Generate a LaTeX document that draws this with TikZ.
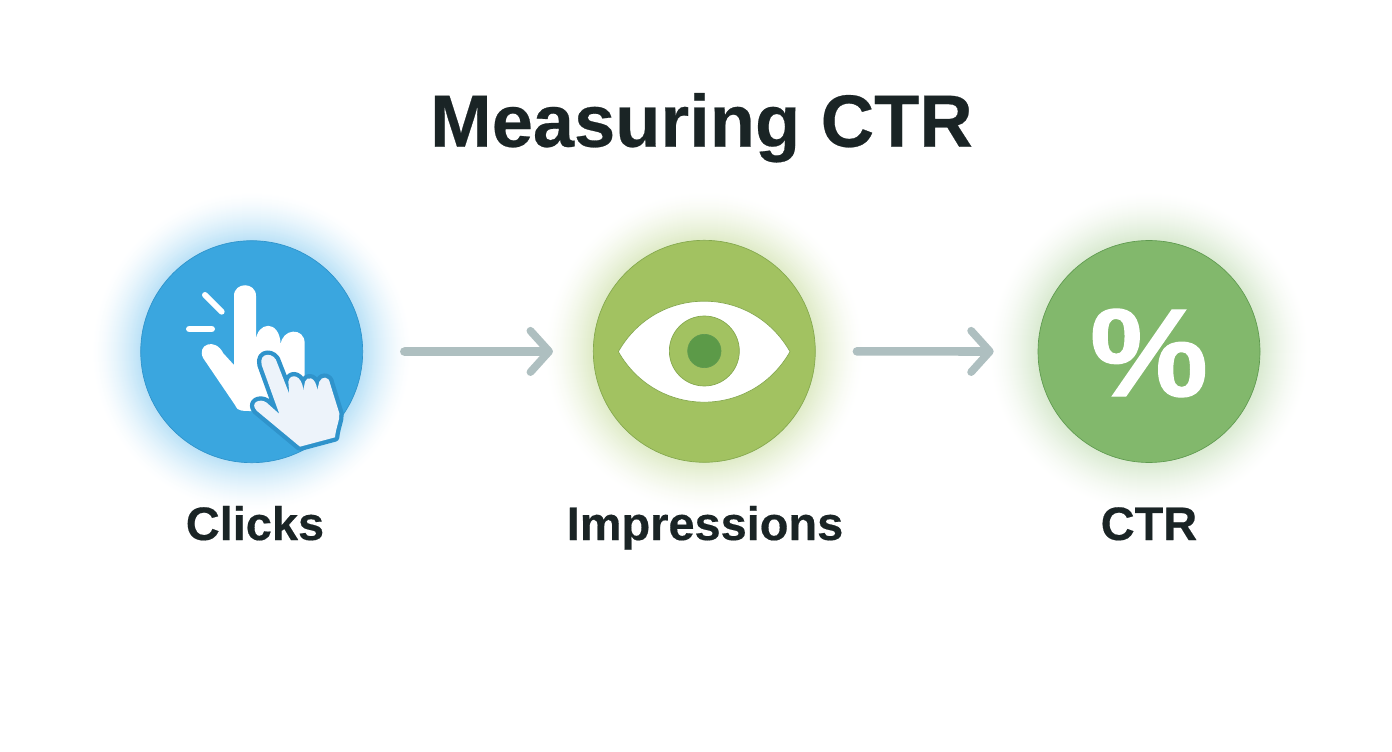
\documentclass[tikz,border=0pt]{standalone}
\usepackage{fontspec}
\setmainfont{Liberation Sans}
\newfontfamily\heavy{Liberation Sans}[BoldFeatures={FakeBold=0.35}]
\newfontfamily\pctfont{Liberation Sans}[BoldFeatures={FakeBold=1,FakeStretch=1.06}]
\usetikzlibrary{arrows.meta}
\definecolor{inkc}{HTML}{1A2425}
\definecolor{bluec}{HTML}{3AA6DF}
\definecolor{blueline}{HTML}{2F93CB}
\definecolor{limec}{HTML}{A2C261}
\definecolor{limeline}{HTML}{84A84E}
\definecolor{greenc}{HTML}{82B86C}
\definecolor{greenline}{HTML}{5F9A50}
\definecolor{pupilc}{HTML}{5C9A48}
\definecolor{glowblue}{HTML}{B4DFF6}
\definecolor{glowlime}{HTML}{DCE9C2}
\definecolor{glowgreen}{HTML}{D6E8CC}
\definecolor{arrowc}{HTML}{AEBFC0}
\definecolor{frontc}{HTML}{EDF3FA}
\newcommand{\glowat}[3]{%
  \foreach \r in {160,159,...,108}{%
    \pgfmathsetmacro{\p}{100*((160-\r)/52)^1.5}%
    \fill[#3!\p!white] (#1,#2) circle[radius=\r];%
  }}
\tikzset{
  x=0.75pt,y=-0.75pt,
  disc/.style={circle,minimum size=166.5pt,inner sep=0pt,line width=0.5pt},
  flow/.style={draw=arrowc,line width=6.5pt,line cap=round,
    -{Straight Barb[round,length=14pt,width=31pt,line width=5.8pt]}},
  titletext/.style={text=inkc,font=\fontsize{55.5pt}{60pt}\selectfont\heavy\bfseries,anchor=base,inner sep=0pt},
  labeltext/.style={text=inkc,font=\fontsize{35.2pt}{40pt}\selectfont\heavy\bfseries,anchor=base,inner sep=0pt},
  tick/.style={draw=white,line cap=round},
}
\begin{document}
\begin{tikzpicture}
\useasboundingbox[fill=white] (0,0) rectangle (1392,752);
\glowat{251.7}{351.7}{glowblue}
\glowat{704.3}{351.3}{glowlime}
\glowat{1149}{351.5}{glowgreen}
\node[titletext] (title) at (701.5,146.7) {Measuring CTR};
\node[disc,fill=bluec,draw=blueline] (clicks) at (251.7,351.7) {};
\node[disc,fill=limec,draw=limeline] (impressions) at (704.3,351.3) {};
\node[disc,fill=greenc,draw=greenline] (ctr) at (1149,351.5) {};
% hands
\begin{scope}[shift={(180,280)},x=0.25pt,y=-0.25pt]
  \draw[tick,line width=4.5pt] (75,45) -- (125,95);
  \draw[tick,line width=5pt] (28,147) -- (95,147);
  \fill[white] (162,255) -- (162,48) .. controls (162,5) and (228,5) .. (228,48) -- (228,185)
    .. controls (228,125) and (300,115) .. (302,195)
    .. controls (305,145) and (374,140) .. (374,190) -- (374,290) -- (250,395) -- (185,392)
    .. controls (175,392) and (170,385) .. (165,375) -- (70,235)
    .. controls (48,195) and (105,170) .. (130,220) -- cycle;
  \path[draw=blueline,line width=6.5pt,line join=round]
    (298,402) -- (245,255) .. controls (235,215) and (285,215) .. (292,250) -- (328,342)
    -- (325,305) .. controls (330,278) and (367,283) .. (370,332)
    -- (375,305) .. controls (380,288) and (407,288) .. (412,330)
    -- (418,305) .. controls (425,288) and (447,288) .. (450,310)
    -- (478,400) .. controls (480,420) and (468,440) .. (465,472)
    -- (360,500) -- (230,392) .. controls (208,368) and (240,353) .. (260,368) -- cycle;
  \fill[frontc]
    (298,402) -- (245,255) .. controls (235,215) and (285,215) .. (292,250) -- (328,342)
    -- (325,305) .. controls (330,278) and (367,283) .. (370,332)
    -- (375,305) .. controls (380,288) and (407,288) .. (412,330)
    -- (418,305) .. controls (425,288) and (447,288) .. (450,310)
    -- (478,400) .. controls (480,420) and (468,440) .. (465,472)
    -- (360,500) -- (230,392) .. controls (208,368) and (240,353) .. (260,368) -- cycle;
\end{scope}
% eye
\begin{scope}[shift={(560,220)},x=0.25pt,y=-0.25pt]
  \draw[fill=white,draw=limeline,line width=0.5pt] (175,395) .. controls (290,193) and (575,193) .. (690,395)
    .. controls (575,597) and (290,597) .. (175,395) -- cycle;
  \draw[fill=limec,draw=limeline,line width=0.5pt] (433,393) circle[radius=105];
  \draw[fill=pupilc,draw=greenline,line width=0.5pt] (433,393) circle[radius=50];
\end{scope}
\node[text=white,font=\fontsize{94pt}{110pt}\selectfont\pctfont\bfseries,inner sep=0pt] (pct) at (1149,353) {\%};
% connectors
\draw[flow,shorten <=31pt,shorten >=30pt] (clicks) -- (impressions);
\draw[flow,shorten <=31pt,shorten >=33pt] (impressions) -- (ctr);
% labels
\node[labeltext] (l1) at (255,540) {Clicks};
\node[labeltext] (l2) at (705,540) {Impressions};
\node[labeltext] (l3) at (1149,540) {CTR};
\end{tikzpicture}
\end{document}
